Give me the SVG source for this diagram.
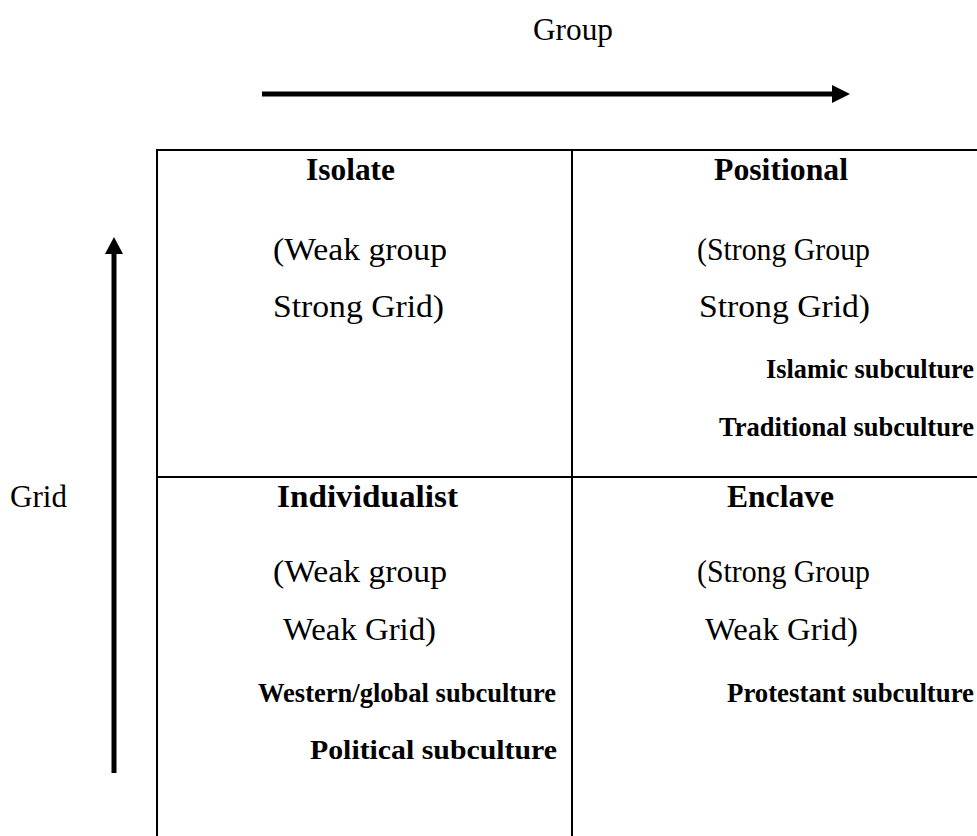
<svg xmlns="http://www.w3.org/2000/svg" width="977" height="836" viewBox="0 0 977 836">
<style>
text{font-family:"Liberation Serif","Times New Roman",serif;fill:#000}
.h{font-size:31.5px;font-weight:bold}
.n{font-size:32px}
.s{font-size:26.3px;font-weight:bold}
.ax{font-size:31px}
.ln{stroke:#000;stroke-width:2;fill:none}
.arr{stroke:#000;stroke-width:5;fill:none}
</style>
<rect width="977" height="836" fill="#fff"/>
<g id="axes">
<text class="ax" x="533" y="40" textLength="80" lengthAdjust="spacingAndGlyphs">Group</text>
<line class="arr" x1="262" y1="94" x2="834" y2="94"/>
<polygon points="832,85 850,94 832,103" fill="#000"/>
<text class="ax" x="10" y="507" textLength="57" lengthAdjust="spacingAndGlyphs">Grid</text>
<line class="arr" x1="114" y1="773" x2="114" y2="252"/>
<polygon points="105,254 114,237 123,254" fill="#000"/>
</g>
<g id="connectors">
<path class="ln" d="M157,836 V150 H977 M572,150 V836 M157,477 H977"/>
</g>
<g id="isolate">
<text class="h" x="306" y="180" textLength="89" lengthAdjust="spacingAndGlyphs">Isolate</text>
<text class="n" x="273" y="260" textLength="174" lengthAdjust="spacingAndGlyphs">(Weak group</text>
<text class="n" x="273" y="317" textLength="171" lengthAdjust="spacingAndGlyphs">Strong Grid)</text>
</g>
<g id="positional">
<text class="h" x="714" y="180" textLength="134" lengthAdjust="spacingAndGlyphs">Positional</text>
<text class="n" x="697" y="260" textLength="173" lengthAdjust="spacingAndGlyphs">(Strong Group</text>
<text class="n" x="699" y="317" textLength="171" lengthAdjust="spacingAndGlyphs">Strong Grid)</text>
<text class="s" x="766" y="378" textLength="208" lengthAdjust="spacingAndGlyphs">Islamic subculture</text>
<text class="s" x="719" y="436" textLength="255" lengthAdjust="spacingAndGlyphs">Traditional subculture</text>
</g>
<g id="individualist">
<text class="h" x="277" y="507" textLength="181" lengthAdjust="spacingAndGlyphs">Individualist</text>
<text class="n" x="273" y="582" textLength="174" lengthAdjust="spacingAndGlyphs">(Weak group</text>
<text class="n" x="283" y="640" textLength="153" lengthAdjust="spacingAndGlyphs">Weak Grid)</text>
<text class="s" x="258" y="702" textLength="298" lengthAdjust="spacingAndGlyphs">Western/global subculture</text>
<text class="s" x="310" y="759" textLength="247" lengthAdjust="spacingAndGlyphs">Political subculture</text>
</g>
<g id="enclave">
<text class="h" x="727" y="507" textLength="107" lengthAdjust="spacingAndGlyphs">Enclave</text>
<text class="n" x="697" y="582" textLength="173" lengthAdjust="spacingAndGlyphs">(Strong Group</text>
<text class="n" x="705" y="640" textLength="153" lengthAdjust="spacingAndGlyphs">Weak Grid)</text>
<text class="s" x="727" y="702" textLength="247" lengthAdjust="spacingAndGlyphs">Protestant subculture</text>
</g>
</svg>
